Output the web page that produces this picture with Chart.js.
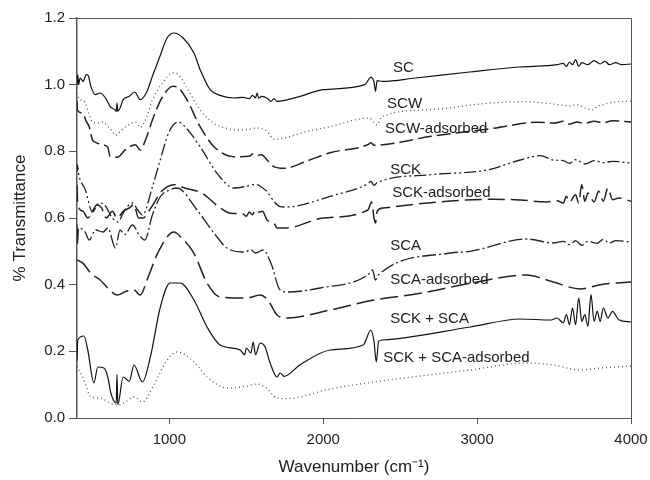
<!DOCTYPE html>
<html>
<head>
<meta charset="utf-8">
<script src="https://cdn.jsdelivr.net/npm/chart.js@4/dist/chart.umd.min.js"></script>
<style>
  html, body { margin: 0; padding: 0; background: #fff; }
  #wrap { width: 650px; height: 480px; position: relative; }
</style>
</head>
<body>
<div id="wrap"><canvas id="ftirChart"></canvas></div>
<script>
// spectra: [wavenumber, % transmittance]
const SC = [[400,1.0],[405,1.03],[410,1.0],[420,1.02],[440,1.01],[460,1.03],[475,1.025],[490,0.995],[520,0.97],[550,0.975],[585,0.96],[615,0.935],[645,0.925],[655,0.92],[660,0.945],[665,0.92],[680,0.93],[700,0.955],[740,0.965],[775,0.978],[810,0.955],[850,0.975],[890,1.025],[935,1.08],[985,1.14],[1030,1.155],[1090,1.14],[1160,1.095],[1200,1.045],[1265,0.985],[1330,0.968],[1420,0.96],[1480,0.962],[1520,0.958],[1540,0.968],[1560,0.96],[1570,0.975],[1580,0.96],[1600,0.965],[1640,0.958],[1660,0.95],[1680,0.958],[1700,0.95],[1750,0.953],[1850,0.965],[2000,0.985],[2270,1.0],[2310,1.022],[2330,1.008],[2340,0.98],[2350,1.012],[2385,1.01],[2600,1.02],[2950,1.038],[3280,1.053],[3450,1.057],[3520,1.06],[3560,1.064],[3580,1.055],[3600,1.068],[3620,1.06],[3640,1.075],[3660,1.055],[3680,1.066],[3720,1.06],[3760,1.072],[3800,1.062],[3830,1.07],[3860,1.06],[3900,1.066],[3940,1.06],[4000,1.062]];
const SCW = [[400,0.975],[410,0.96],[420,0.955],[450,0.948],[480,0.91],[500,0.888],[530,0.885],[565,0.888],[600,0.875],[630,0.86],[650,0.848],[670,0.855],[715,0.873],[780,0.888],[810,0.872],[850,0.9],[890,0.954],[955,1.005],[1025,1.035],[1060,1.03],[1115,0.99],[1200,0.924],[1290,0.884],[1380,0.868],[1460,0.864],[1520,0.866],[1570,0.87],[1635,0.86],[1680,0.836],[1745,0.84],[1900,0.86],[2045,0.874],[2300,0.9],[2350,0.879],[2380,0.904],[2700,0.925],[3065,0.944],[3320,0.949],[3495,0.942],[3600,0.936],[3650,0.94],[3700,0.93],[3755,0.924],[3780,0.935],[3820,0.94],[3850,0.945],[3900,0.948],[4000,0.951]];
const SCW_ADS = [[400,0.95],[402,0.924],[435,0.915],[460,0.89],[480,0.873],[500,0.835],[530,0.825],[565,0.82],[600,0.812],[615,0.785],[660,0.782],[715,0.805],[780,0.82],[810,0.804],[850,0.84],[890,0.894],[955,0.963],[1025,0.995],[1060,0.99],[1115,0.954],[1200,0.874],[1290,0.814],[1420,0.784],[1520,0.785],[1540,0.792],[1570,0.788],[1600,0.79],[1635,0.774],[1680,0.754],[1745,0.749],[1900,0.772],[2045,0.796],[2290,0.82],[2310,0.826],[2330,0.818],[2700,0.845],[3105,0.869],[3390,0.887],[3500,0.885],[3560,0.89],[3600,0.882],[3650,0.888],[3700,0.884],[3760,0.89],[3820,0.886],[3880,0.892],[4000,0.888]];
const SCK = [[400,0.74],[403,0.76],[410,0.734],[455,0.684],[500,0.618],[545,0.645],[580,0.639],[630,0.6],[665,0.588],[710,0.624],[760,0.645],[795,0.624],[825,0.609],[890,0.693],[935,0.765],[1000,0.86],[1058,0.888],[1100,0.875],[1200,0.814],[1310,0.734],[1420,0.69],[1500,0.695],[1540,0.7],[1570,0.7],[1600,0.692],[1635,0.679],[1680,0.65],[1720,0.634],[1760,0.633],[2045,0.665],[2290,0.703],[2310,0.71],[2330,0.698],[2350,0.706],[2700,0.73],[3065,0.744],[3280,0.774],[3410,0.787],[3495,0.774],[3560,0.772],[3600,0.764],[3640,0.775],[3700,0.762],[3760,0.772],[3820,0.766],[3880,0.77],[4000,0.765]];
const SCK_ADS = [[400,0.70],[405,0.64],[440,0.62],[470,0.6],[500,0.62],[530,0.64],[560,0.63],[590,0.6],[630,0.62],[660,0.6],[700,0.62],[740,0.63],[770,0.64],[800,0.6],[830,0.6],[880,0.63],[950,0.68],[1030,0.70],[1100,0.69],[1215,0.674],[1320,0.634],[1400,0.614],[1480,0.612],[1500,0.605],[1520,0.618],[1540,0.61],[1560,0.625],[1580,0.618],[1605,0.62],[1635,0.594],[1680,0.585],[1700,0.57],[1760,0.57],[2000,0.6],[2290,0.624],[2315,0.648],[2330,0.6],[2340,0.585],[2350,0.62],[2390,0.63],[3100,0.656],[3280,0.654],[3450,0.648],[3520,0.652],[3560,0.645],[3580,0.665],[3600,0.648],[3640,0.67],[3660,0.645],[3680,0.7],[3700,0.65],[3720,0.675],[3760,0.648],[3790,0.68],[3820,0.65],[3850,0.69],[3880,0.655],[3920,0.66],[4000,0.65]];
const SCA = [[400,0.58],[403,0.52],[410,0.57],[450,0.56],[480,0.534],[520,0.564],[570,0.558],[600,0.57],[650,0.51],[680,0.564],[710,0.55],[760,0.579],[805,0.549],[840,0.534],[890,0.609],[940,0.663],[1000,0.684],[1050,0.69],[1180,0.624],[1290,0.555],[1375,0.51],[1490,0.498],[1530,0.505],[1560,0.495],[1610,0.504],[1660,0.465],[1720,0.384],[1765,0.378],[1980,0.39],[2290,0.429],[2320,0.444],[2340,0.414],[2360,0.43],[2825,0.495],[2955,0.5],[3320,0.537],[3495,0.525],[3560,0.53],[3600,0.52],[3640,0.532],[3680,0.518],[3720,0.53],[3780,0.524],[3820,0.536],[3860,0.525],[3900,0.532],[4000,0.528]];
const SCA_ADS = [[400,0.474],[440,0.464],[490,0.434],[550,0.414],[600,0.39],[660,0.369],[720,0.38],[770,0.384],[810,0.369],[860,0.42],[930,0.5],[1030,0.558],[1080,0.54],[1160,0.494],[1245,0.405],[1330,0.363],[1505,0.36],[1590,0.369],[1640,0.354],[1700,0.309],[1765,0.3],[2045,0.324],[2330,0.354],[2630,0.374],[2955,0.404],[3320,0.429],[3495,0.408],[3670,0.387],[3800,0.4],[4000,0.408]];
const SCK_SCA = [[400,0.17],[402,0.2],[405,0.234],[445,0.246],[470,0.204],[510,0.105],[535,0.153],[575,0.15],[600,0.123],[620,0.075],[655,0.045],[660,0.13],[665,0.04],[700,0.123],[740,0.11],[770,0.159],[825,0.108],[880,0.19],[940,0.33],[1005,0.405],[1070,0.405],[1160,0.354],[1245,0.273],[1330,0.219],[1460,0.204],[1490,0.19],[1500,0.21],[1530,0.195],[1545,0.228],[1560,0.19],[1590,0.225],[1620,0.215],[1655,0.165],[1700,0.123],[1720,0.135],[1745,0.125],[1850,0.16],[2045,0.204],[2260,0.219],[2310,0.264],[2330,0.23],[2345,0.168],[2360,0.23],[2385,0.234],[2955,0.273],[3280,0.297],[3480,0.294],[3520,0.3],[3560,0.285],[3580,0.31],[3600,0.28],[3620,0.33],[3640,0.28],[3660,0.36],[3680,0.29],[3700,0.31],[3720,0.275],[3740,0.37],[3760,0.29],[3780,0.32],[3800,0.29],[3820,0.33],[3850,0.3],[3880,0.32],[3920,0.295],[4000,0.288]];
const SCK_SCA_ADS = [[400,0.155],[445,0.114],[490,0.063],[550,0.06],[615,0.045],[670,0.039],[720,0.05],[770,0.063],[825,0.048],[900,0.1],[980,0.17],[1050,0.198],[1160,0.168],[1245,0.123],[1375,0.09],[1500,0.095],[1570,0.102],[1630,0.09],[1700,0.06],[1760,0.058],[2045,0.087],[2330,0.108],[2955,0.144],[3320,0.165],[3495,0.159],[3670,0.144],[3800,0.15],[4000,0.156]];

const seriesNames = ["SC", "SCW", "SCW-adsorbed", "SCK", "SCK-adsorbed", "SCA", "SCA-adsorbed", "SCK + SCA", "SCK + SCA-adsorbed"];
const seriesData = [SC, SCW, SCW_ADS, SCK, SCK_ADS, SCA, SCA_ADS, SCK_SCA, SCK_SCA_ADS];
const xTicks = [1000, 2000, 3000, 4000];
// where each name sits in the plot (wavenumber, transmittance)
const labelX = [2454, 2415, 2402, 2435, 2448, 2435, 2435, 2435, 2390];
const labelY = [1.05, 0.942, 0.867, 0.744, 0.675, 0.516, 0.414, 0.297, 0.18];

const dashes = [[], [1, 3], [14, 5], [12, 3, 2, 3, 2, 3], [17, 6], [14, 3, 2, 3], [18, 6], [], [1, 3]];
const widths = [1.2, 1.3, 1.5, 1.3, 1.5, 1.3, 1.5, 1.2, 1.3];
const colors = ["#111", "#555", "#222", "#222", "#222", "#222", "#222", "#111", "#555"];

const FONT = "'Liberation Sans', Arial, sans-serif";

// frame on top/right + series names
const framePlugin = {
    id: "frameAndNames",
    afterDatasetsDraw(chart) {
        const { ctx, chartArea: a, scales: { x, y } } = chart;
        ctx.save();
        ctx.strokeStyle = "#555";
        ctx.lineWidth = 1;
        ctx.beginPath();
        ctx.moveTo(a.left, a.top + 0.5);
        ctx.lineTo(a.right + 0.5, a.top + 0.5);
        ctx.lineTo(a.right + 0.5, a.bottom);
        ctx.stroke();

        ctx.fillStyle = "#222";
        ctx.font = "15px " + FONT;
        ctx.textBaseline = "middle";
        ctx.textAlign = "left";
        seriesNames.forEach((name, i) => {
            ctx.fillText(name, x.getPixelForValue(labelX[i]), y.getPixelForValue(labelY[i]));
        });
        ctx.restore();
    }
};

const ctx = document.getElementById("ftirChart").getContext("2d");
new Chart(ctx, {
    type: "line",
    data: {
        datasets: seriesData.map((pts, i) => ({
            label: seriesNames[i],
            data: pts.map(p => ({ x: p[0], y: p[1] })),
            borderColor: colors[i],
            borderWidth: widths[i],
            borderDash: dashes[i],
            pointRadius: 0,
            tension: 0,
            cubicInterpolationMode: "monotone",
            fill: false
        }))
    },
    options: {
        responsive: true,
        maintainAspectRatio: false,
        animation: false,
        layout: { padding: { top: 18, right: 19, left: 0, bottom: 0 } },
        plugins: { legend: { display: false }, tooltip: { enabled: false } },
        scales: {
            x: {
                type: "linear",
                min: 400,
                max: 4000,
                afterFit: s => { s.height = 62; s.paddingLeft = 0; s.paddingRight = 0; },
                afterBuildTicks: s => { s.ticks = xTicks.map(v => ({ value: v })); },
                ticks: { color: "#222", padding: 7, maxRotation: 0, autoSkip: false, font: { size: 15, family: FONT }, callback: v => String(v) },
                grid: { drawOnChartArea: false, drawTicks: true, tickLength: 6, color: "#555" },
                border: { color: "#555", width: 1 },
                title: { display: true, text: "Wavenumber (cm\u207B\u00B9)", color: "#222", font: { size: 17, family: FONT }, padding: { top: 0, bottom: 2 } }
            },
            y: {
                min: 0,
                max: 1.2,
                afterFit: s => { s.width = 77; s.paddingTop = 0; s.paddingBottom = 0; },
                ticks: { stepSize: 0.2, color: "#222", padding: 4, font: { size: 15, family: FONT }, callback: v => v.toFixed(1) },
                grid: { drawOnChartArea: false, drawTicks: true, tickLength: 8, color: "#555" },
                border: { color: "#555", width: 1.5 },
                title: { display: true, text: "% Transmittance", color: "#222", font: { size: 17, family: FONT }, padding: { top: 10, bottom: 0 } }
            }
        }
    },
    plugins: [framePlugin]
});
</script>
</body>
</html>
